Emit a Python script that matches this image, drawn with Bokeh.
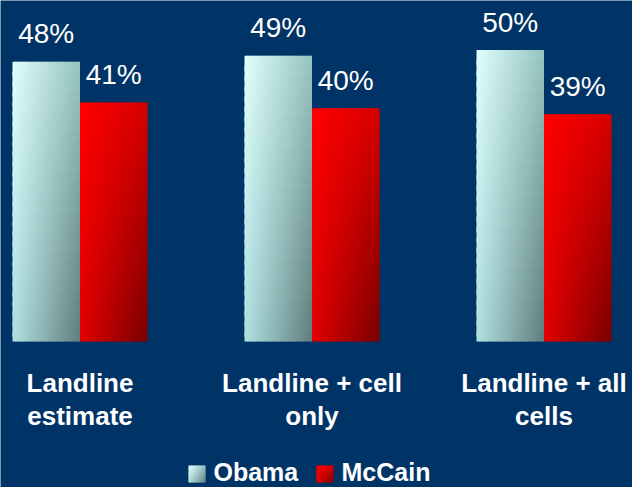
import numpy as np
from bokeh.plotting import figure
from bokeh.models import Range1d
from bokeh.core.properties import value
from bokeh.embed import file_html
from bokeh.resources import INLINE

# ---- data ----
categories = ["Landline\nestimate", "Landline + cell\nonly", "Landline + all\ncells"]
series_names = ["Obama", "McCain"]
obama = [48, 49, 50]
mccain = [41, 40, 39]

# ---- layout constants ----
W, H = 632, 487
BG = "#003366"
PX_PER_Y = 5.83
Y0_PX = 341
GROUP_PX = 232.0
C0_PX = 79.5
BAR_PX = 67.5

y_start = -(H - Y0_PX) / PX_PER_Y
y_end = Y0_PX / PX_PER_Y
x_start = -C0_PX / GROUP_PX
x_end = (W - C0_PX) / GROUP_PX
bar_w = BAR_PX / GROUP_PX


def px_x(px):
    return x_start + px / GROUP_PX


def px_y(py):
    return (Y0_PX - py) / PX_PER_Y


OBAMA_CORNERS = [(224, 255, 255), (150, 196, 192), (176, 224, 224), (95, 125, 125)]
MCCAIN_CORNERS = [(255, 0, 0), (215, 0, 0), (225, 0, 0), (120, 0, 0)]

p = figure(width=W, height=H, x_range=Range1d(x_start, x_end),
           y_range=Range1d(y_start, y_end), x_axis_type=None, y_axis_type=None,
           output_backend="svg", toolbar_location=None, min_border=0,
           background_fill_color=BG, border_fill_color=BG, outline_line_color=None)
p.grid.visible = False


def grad_cells(left, right, bottom, top, corners, nx, ny, acc):
    tl, tr, bl, br = [np.array(c, dtype=float) for c in corners]
    dx = (right - left) / nx
    dy = (top - bottom) / ny
    for j in range(ny):
        v = (j + 0.5) / ny  # 0 at top, 1 at bottom
        t = top - j * dy
        b = top - (j + 1) * dy
        b_ext = b - (dy * 0.5 if j < ny - 1 else 0)
        for i in range(nx):
            u = (i + 0.5) / nx
            l = left + i * dx
            r = left + (i + 1) * dx
            r_ext = r + (dx * 0.5 if i < nx - 1 else 0)
            c = tl * (1 - u) * (1 - v) + tr * u * (1 - v) + bl * (1 - u) * v + br * u * v
            acc["left"].append(l)
            acc["right"].append(r_ext)
            acc["top"].append(t)
            acc["bottom"].append(b_ext)
            acc["color"].append("#%02x%02x%02x" % tuple(int(round(x)) for x in c))


acc = {"left": [], "right": [], "top": [], "bottom": [], "color": []}
for k, cat in enumerate(categories):
    grad_cells(k - bar_w, k, 0, obama[k], OBAMA_CORNERS, 28, 28, acc)
    grad_cells(k, k + bar_w, 0, mccain[k], MCCAIN_CORNERS, 28, 28, acc)

# legend swatches
sw = 17
for name, corners, px0 in [(series_names[0], OBAMA_CORNERS, 188), (series_names[1], MCCAIN_CORNERS, 316)]:
    grad_cells(px_x(px0), px_x(px0 + sw), px_y(482), px_y(465), corners, 8, 8, acc)

p.quad(left="left", right="right", top="top", bottom="bottom", fill_color="color",
       line_color=None, source=acc)

# value labels
xs = [k - bar_w / 2 for k in range(len(categories))] + [k + bar_w / 2 for k in range(len(categories))]
ys = obama + mccain
labels = [f"{v}%" for v in ys]
p.text(x=xs, y=ys, text=labels, text_align="center", text_baseline="middle",
       y_offset=-28, text_color="white", text_font=value("Liberation Sans"),
       text_font_size="28px")

# category labels
line1 = [c.split("\n")[0] for c in categories]
line2 = [c.split("\n")[1] for c in categories]
cx = list(range(len(categories)))
p.text(x=cx, y=[px_y(382)] * 3, text=line1, text_align="center", text_baseline="middle",
       text_color="white", text_font=value("Liberation Sans"), text_font_size="26px",
       text_font_style="bold")
p.text(x=cx, y=[px_y(415)] * 3, text=line2, text_align="center", text_baseline="middle",
       text_color="white", text_font=value("Liberation Sans"), text_font_size="26px",
       text_font_style="bold")

# legend labels
p.text(x=[px_x(213), px_x(341)], y=[px_y(471)] * 2, text=series_names, text_align="left",
       text_baseline="middle", text_color="white", text_font=value("Liberation Sans"),
       text_font_size="25px", text_font_style="bold")

open("out.html", "w").write(file_html(p, INLINE))
